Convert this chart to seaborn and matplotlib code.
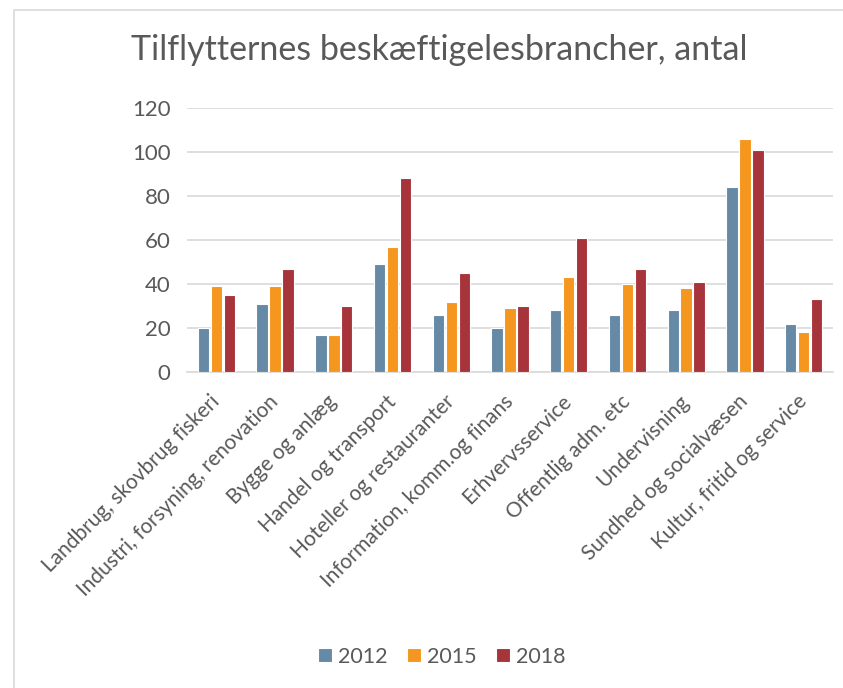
import matplotlib
matplotlib.use("Agg")
import matplotlib.pyplot as plt
import seaborn as sns
import pandas as pd
from matplotlib.patches import Rectangle

categories = [
    "Landbrug, skovbrug fiskeri",
    "Industri, forsyning, renovation",
    "Bygge og anlæg",
    "Handel og transport",
    "Hoteller og restauranter",
    "Information, komm.og finans",
    "Erhvervsservice",
    "Offentlig adm. etc",
    "Undervisning",
    "Sundhed og socialvæsen",
    "Kultur, fritid og service",
]
years = ["2012", "2015", "2018"]
v2012 = [20, 31, 17, 49, 26, 20, 28, 26, 28, 84, 22]
v2015 = [39, 39, 17, 57, 32, 29, 43, 40, 38, 106, 18]
v2018 = [35, 47, 30, 88, 45, 30, 61, 47, 41, 101, 33]
yticks = [0, 20, 40, 60, 80, 100, 120]
colors = ["#6689A5", "#F5961E", "#A8343B"]

rows = []
for yr, vals in zip(years, [v2012, v2015, v2018]):
    for c, v in zip(categories, vals):
        rows.append({"cat": c, "year": yr, "val": v})
df = pd.DataFrame(rows)

sns.set_theme(style="white")
plt.rcParams["font.family"] = ["Lato", "DejaVu Sans"]
grey = "#595959"

fig = plt.figure(figsize=(8.43, 6.88), dpi=100)
ax = fig.add_axes([187 / 843, 1 - 372 / 688, (833 - 187) / 843, (372 - 108) / 688])

sns.barplot(data=df, x="cat", y="val", hue="year", palette=colors, order=categories,
            hue_order=years, width=0.66, gap=0.12, edgecolor="white", linewidth=0.8,
            saturation=1, ax=ax, legend=True, zorder=3)

ax.set_ylim(0, 120)
ax.set_yticks(yticks)
ax.set_yticklabels([str(t) for t in yticks], color=grey, fontsize=16)
ax.yaxis.grid(True, color="#D9D9D9", linewidth=1.2, zorder=0)
ax.set_axisbelow(True)
for s in ["left", "right", "top"]:
    ax.spines[s].set_visible(False)
ax.spines["bottom"].set_color("#D9D9D9")
ax.spines["bottom"].set_linewidth(1.2)
ax.tick_params(axis="y", length=0, pad=12)
ax.tick_params(axis="x", length=0, pad=19)
ax.set_xlim(-0.5, len(categories) - 0.5)
ax.set_xlabel("")
ax.set_ylabel("")
ax.set_xticks(range(len(categories)))
ax.set_xticklabels(categories, rotation=45, ha="right", va="center", rotation_mode="anchor",
                   color=grey, fontsize=15)

ax.legend_.remove()
handles, labels = ax.get_legend_handles_labels()
leg = fig.legend(handles, labels, loc="center", bbox_to_anchor=(442 / 843, 1 - 657 / 688),
                 ncol=3, frameon=False, fontsize=15.5, handlelength=0.63, handleheight=0.63,
                 handletextpad=0.3, columnspacing=0.9)
for t in leg.get_texts():
    t.set_color(grey)

fig.text(439 / 843, 1 - 50 / 688, "Tilflytternes beskæftigelesbrancher, antal", ha="center",
         va="center", fontsize=24.5, color=grey)

fig.patches.append(Rectangle((14 / 843, -0.1), 1.2, 1 - 10 / 688 + 0.1, transform=fig.transFigure,
                             fill=False, edgecolor="#D9D9D9", linewidth=1.2))

fig.savefig("out.png", dpi=100)
